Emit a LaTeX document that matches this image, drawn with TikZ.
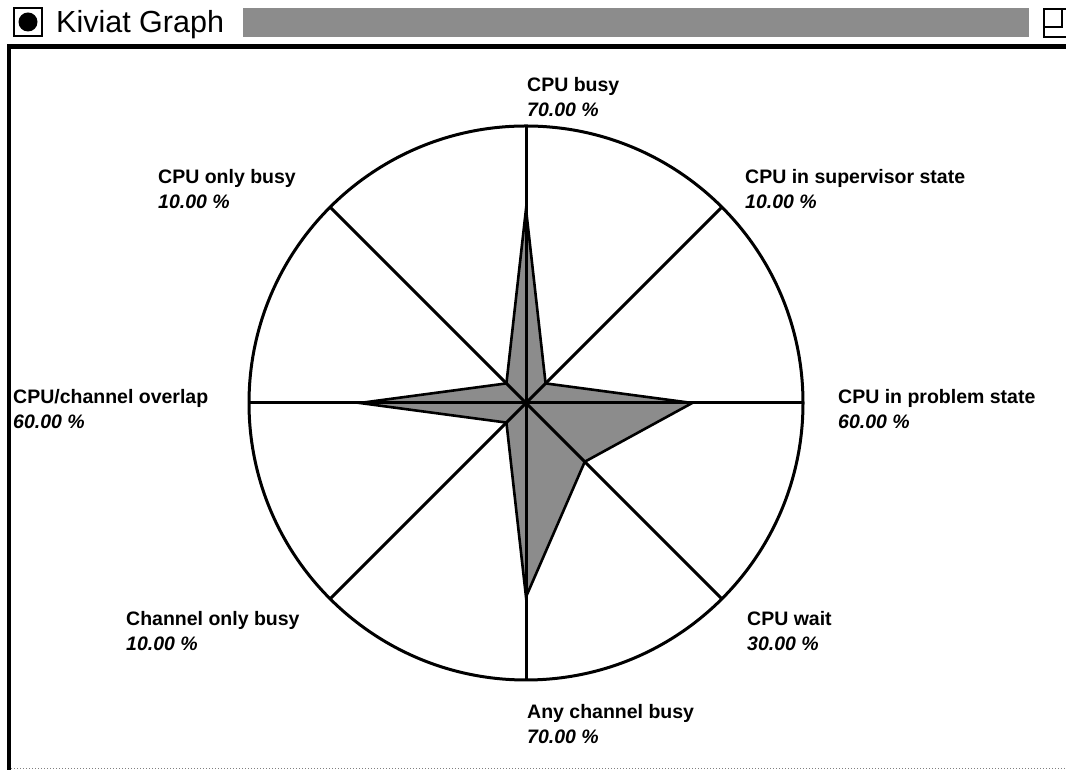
\documentclass[tikz,border=0pt]{standalone}
\usepackage{fontspec}
\setmainfont{Liberation Sans}
\usepackage{tikz}
\usetikzlibrary{positioning}

\begin{document}
\begin{tikzpicture}[x=1pt, y=1pt,
  axis/.style={line width=3pt},
  rim/.style={line width=3pt, fill=white},
  star/.style={line width=2.6pt, fill=black!45, line join=miter},
  lab/.style={font=\bfseries\fontsize{19.5}{25}\selectfont, inner sep=0pt, anchor=base west},
  val/.style={font=\bfseries\itshape\fontsize{19.5}{25}\selectfont, inner sep=0pt, anchor=base west},
  hatch/.style={fill=black!45, draw=none}
]
\useasboundingbox (0,0) rectangle (1066,770);
\fill[white] (0,0) rectangle (1066,770);

% title bar
\draw[line width=1.8pt] (14,734) rectangle (42,762);
\fill (28,748) circle (9.5);
\node[inner sep=0pt, anchor=base west, font=\fontsize{30.5}{32}\selectfont] (title) at (56,737) {Kiviat Graph};
\fill[hatch] (243,733) rectangle (1029,762);
\draw[line width=1.8pt] (1044,733) rectangle (1072,761);
\draw[line width=1.8pt] (1044,743) -- (1062,743) -- (1062,761);

% window frame
\draw[line width=5pt] (7,723) -- (1066,723);
\draw[line width=4pt] (9,725) -- (9,0);
\draw[black!50, line width=1pt, dotted] (11,1) -- (1066,1);

% chart
\coordinate (c) at (526,367);
\draw[rim] (c) circle (277);
\foreach \ang/\v [count=\i] in {90/70, 45/10, 0/60, -45/30, -90/70, -135/10, 180/60, 135/10}{
  \coordinate (p\i) at ([shift={(\ang:\v*2.77)}]c);
  \coordinate (a\i) at ([shift={(\ang:277)}]c);
}
\draw[star] (p1) -- (p2) -- (p3) -- (p4) -- (p5) -- (p6) -- (p7) -- (p8) -- cycle;
\foreach \i in {1,...,8}
  \draw[axis] (c) -- (a\i);

% labels
\node[lab] (busy) at (527,678) {CPU busy};
\node[val] at ([yshift=-25pt]busy.base west) {70.00 \%};
\node[lab] (super) at (745,586) {CPU in supervisor state};
\node[val] at ([yshift=-25pt]super.base west) {10.00 \%};
\node[lab] (problem) at (838,366) {CPU in problem state};
\node[val] at ([yshift=-25pt]problem.base west) {60.00 \%};
\node[lab] (wait) at (747,144) {CPU wait};
\node[val] at ([yshift=-25pt]wait.base west) {30.00 \%};
\node[lab] (anychan) at (527,51) {Any channel busy};
\node[val] at ([yshift=-25pt]anychan.base west) {70.00 \%};
\node[lab] (chanonly) at (126,144) {Channel only busy};
\node[val] at ([yshift=-25pt]chanonly.base west) {10.00 \%};
\node[lab] (overlap) at (13,366) {CPU/channel overlap};
\node[val] at ([yshift=-25pt]overlap.base west) {60.00 \%};
\node[lab] (cpuonly) at (158,586) {CPU only busy};
\node[val] at ([yshift=-25pt]cpuonly.base west) {10.00 \%};
\end{tikzpicture}
\end{document}
